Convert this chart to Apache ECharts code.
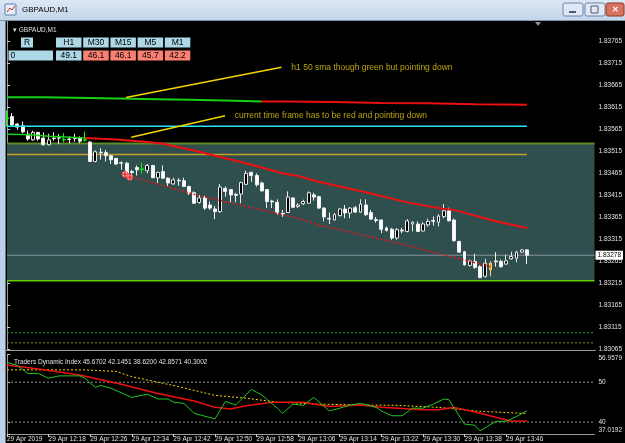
<!DOCTYPE html>
<html>
<head>
<meta charset="utf-8">
<style>
html,body{margin:0;padding:0;background:#000;}
#chart{width:625px;height:443px;}
</style>
<script src="https://cdn.jsdelivr.net/npm/echarts@6/dist/echarts.min.js"></script>
</head>
<body>
<div id="chart"></div>
<script>
var FONT = 'Liberation Sans, Arial, sans-serif';

// x = bar index, bar 0 = 29 Apr 2019 12:10, one bar per minute
var timeTicks = [0, 8, 16, 24, 32, 40, 48, 56, 64, 72, 80, 88, 96];
var timeLabels = ['29 Apr 2019', '29 Apr 12:18', '29 Apr 12:26', '29 Apr 12:34', '29 Apr 12:42',
  '29 Apr 12:50', '29 Apr 12:58', '29 Apr 13:06', '29 Apr 13:14', '29 Apr 13:22',
  '29 Apr 13:30', '29 Apr 13:38', '29 Apr 13:46'];
var priceTicks = [1.83065, 1.83115, 1.83165, 1.83215, 1.83265, 1.83315, 1.83365, 1.83415,
  1.83465, 1.83515, 1.83565, 1.83615, 1.83665, 1.83715, 1.83765];

// open, close, low, high
var candles = [
  [1.83590, 1.83588, 1.83570, 1.83607], [1.83593, 1.83574, 1.83572, 1.83601],
  [1.83576, 1.83569, 1.83563, 1.83578], [1.83572, 1.83558, 1.83555, 1.83582],
  [1.83553, 1.83542, 1.83538, 1.83561], [1.83540, 1.83557, 1.83538, 1.83561],
  [1.83557, 1.83542, 1.83538, 1.83558], [1.83544, 1.83529, 1.83527, 1.83557],
  [1.83529, 1.83540, 1.83527, 1.83554], [1.83544, 1.83543, 1.83538, 1.83557],
  [1.83545, 1.83544, 1.83530, 1.83553], [1.83541, 1.83540, 1.83534, 1.83555],
  [1.83542, 1.83541, 1.83532, 1.83548], [1.83544, 1.83543, 1.83536, 1.83554],
  [1.83544, 1.83537, 1.83532, 1.83548], [1.83540, 1.83539, 1.83536, 1.83559],
  [1.83535, 1.83491, 1.83490, 1.83537], [1.83491, 1.83513, 1.83489, 1.83516],
  [1.83512, 1.83511, 1.83495, 1.83521], [1.83511, 1.83504, 1.83491, 1.83517],
  [1.83504, 1.83495, 1.83485, 1.83506], [1.83498, 1.83485, 1.83483, 1.83498],
  [1.83488, 1.83487, 1.83472, 1.83491], [1.83487, 1.83464, 1.83460, 1.83490],
  [1.83468, 1.83466, 1.83458, 1.83472], [1.83477, 1.83472, 1.83459, 1.83482],
  [1.83474, 1.83473, 1.83464, 1.83488], [1.83470, 1.83482, 1.83464, 1.83485],
  [1.83482, 1.83454, 1.83453, 1.83483], [1.83454, 1.83466, 1.83442, 1.83468],
  [1.83468, 1.83453, 1.83451, 1.83482], [1.83453, 1.83442, 1.83433, 1.83455],
  [1.83440, 1.83449, 1.83438, 1.83454], [1.83448, 1.83447, 1.83436, 1.83453],
  [1.83447, 1.83434, 1.83433, 1.83454], [1.83434, 1.83419, 1.83415, 1.83436],
  [1.83420, 1.83396, 1.83395, 1.83423], [1.83398, 1.83408, 1.83395, 1.83415],
  [1.83409, 1.83385, 1.83381, 1.83413], [1.83392, 1.83385, 1.83381, 1.83400],
  [1.83383, 1.83377, 1.83360, 1.83390], [1.83377, 1.83433, 1.83374, 1.83440],
  [1.83430, 1.83423, 1.83411, 1.83434], [1.83427, 1.83415, 1.83398, 1.83428],
  [1.83416, 1.83414, 1.83398, 1.83420], [1.83417, 1.83443, 1.83396, 1.83445],
  [1.83439, 1.83464, 1.83438, 1.83470], [1.83466, 1.83459, 1.83445, 1.83468],
  [1.83459, 1.83438, 1.83434, 1.83464], [1.83442, 1.83424, 1.83423, 1.83445],
  [1.83427, 1.83400, 1.83385, 1.83428], [1.83401, 1.83399, 1.83385, 1.83404],
  [1.83398, 1.83375, 1.83370, 1.83405], [1.83373, 1.83371, 1.83365, 1.83381],
  [1.83375, 1.83410, 1.83374, 1.83423], [1.83408, 1.83387, 1.83385, 1.83410],
  [1.83389, 1.83392, 1.83385, 1.83396], [1.83395, 1.83400, 1.83392, 1.83404],
  [1.83396, 1.83420, 1.83395, 1.83423], [1.83415, 1.83410, 1.83402, 1.83420],
  [1.83411, 1.83385, 1.83383, 1.83413], [1.83385, 1.83365, 1.83355, 1.83387],
  [1.83362, 1.83360, 1.83349, 1.83375], [1.83358, 1.83370, 1.83357, 1.83374],
  [1.83368, 1.83383, 1.83366, 1.83385], [1.83383, 1.83374, 1.83362, 1.83392],
  [1.83374, 1.83385, 1.83362, 1.83387], [1.83386, 1.83376, 1.83374, 1.83390],
  [1.83376, 1.83394, 1.83374, 1.83405], [1.83392, 1.83370, 1.83367, 1.83405],
  [1.83375, 1.83360, 1.83358, 1.83381], [1.83359, 1.83357, 1.83352, 1.83365],
  [1.83358, 1.83337, 1.83328, 1.83359], [1.83340, 1.83334, 1.83332, 1.83343],
  [1.83337, 1.83317, 1.83313, 1.83340], [1.83317, 1.83336, 1.83313, 1.83340],
  [1.83335, 1.83333, 1.83328, 1.83340], [1.83332, 1.83356, 1.83330, 1.83360],
  [1.83349, 1.83353, 1.83332, 1.83355], [1.83349, 1.83332, 1.83331, 1.83355],
  [1.83333, 1.83349, 1.83332, 1.83353], [1.83347, 1.83355, 1.83343, 1.83361],
  [1.83357, 1.83355, 1.83345, 1.83366], [1.83353, 1.83367, 1.83343, 1.83371],
  [1.83366, 1.83379, 1.83362, 1.83394], [1.83379, 1.83356, 1.83355, 1.83386],
  [1.83358, 1.83311, 1.83309, 1.83361], [1.83309, 1.83285, 1.83283, 1.83311],
  [1.83286, 1.83256, 1.83255, 1.83288], [1.83255, 1.83265, 1.83252, 1.83268],
  [1.83264, 1.83250, 1.83247, 1.83281], [1.83252, 1.83227, 1.83226, 1.83255],
  [1.83230, 1.83260, 1.83227, 1.83270], [1.83245, 1.83260, 1.83230, 1.83264],
  [1.83265, 1.83263, 1.83252, 1.83285], [1.83264, 1.83252, 1.83250, 1.83268],
  [1.83258, 1.83265, 1.83256, 1.83279], [1.83270, 1.83275, 1.83268, 1.83286],
  [1.83271, 1.83285, 1.83262, 1.83288], [1.83285, 1.83290, 1.83283, 1.83292],
  [1.83290, 1.83278, 1.83258, 1.83292]
];
var greenBars = [0, 11, 15, 26];
var orangeBars = [93];

// H1 50 sma, stepped (bar where each step starts)
var h1MaBars = [0, 7, 16, 26, 35, 44, 49, 54, 63, 72, 81, 90, 100];
var h1MaValues = [1.83637, 1.83635, 1.83633, 1.83631, 1.83629, 1.83627, 1.83627, 1.83626,
  1.83624, 1.83623, 1.83621, 1.83620, 1.83620];
var h1GreenUntil = 6; // index in h1MaBars where colour turns red

// current time frame MA
var maBars = [0, 3, 5, 8, 12, 15, 21, 27, 30, 37, 40, 46, 53, 56, 60, 64, 69, 77, 84, 86, 94, 100];
var maValues = [1.83553, 1.83552, 1.83551, 1.83548, 1.83546, 1.83544, 1.83541, 1.83535, 1.83531,
  1.83513, 1.83504, 1.83487, 1.83464, 1.83458, 1.83445, 1.83434, 1.83421, 1.83398, 1.83383,
  1.83381, 1.83355, 1.83340];
var maGreenUntil = 5;

var lowBandBars = [24, 37, 56, 60, 77, 93];
var lowBandValues = [1.83456, 1.83413, 1.83362, 1.83347, 1.83300, 1.83252];

var cyanLevel = 1.83571;
var goldLevel = 1.83507;
var zoneTop = 1.83532;
var zoneBottom = 1.83220;
var bidPrice = 1.83278;
var lowLevels = [1.83102, 1.83079];

var trendLines = [
  [[22.9, 1.83636], [52.8, 1.83705]],
  [[23.9, 1.83546], [41.95, 1.83595]]
];
var notes = [
  {x: 54.6, y: 1.83703, text: 'h1 50 sma though green but pointing down'},
  {x: 43.7, y: 1.83595, text: 'current time frame has to be red and pointing down'}
];
var tradeMarks = [[22.7, 1.83462], [23.6, 1.83455]];

// Traders Dynamic Index
var rsiBars = [0, 2, 4, 6, 8, 10, 14, 15, 17, 18, 20, 24, 27, 29, 31, 32, 34, 35, 36, 40, 42, 44,
  47, 49, 52, 53, 55, 57, 59, 62, 64, 66, 68, 71, 72, 74, 76, 78, 80, 82, 84, 85, 88, 90, 91,
  94, 96, 98, 100];
var rsiValues = [55.0, 54.2, 52.2, 52.2, 51.0, 51.6, 51.6, 51.0, 48.7, 49.2, 48.5, 46.2, 47.0,
  45.8, 45.8, 45.0, 44.7, 43.5, 42.2, 40.8, 45.2, 44.3, 48.2, 46.8, 43.5, 42.2, 44.5, 44.2,
  46.2, 42.8, 43.5, 44.3, 44.7, 43.7, 42.8, 41.6, 41.6, 43.5, 43.5, 44.5, 45.8, 45.6, 39.5,
  39.2, 37.8, 40.2, 40.2, 41.4, 42.86];
var sigBars = [0, 6, 14, 22, 29, 36, 40, 43, 46, 51, 57, 62, 68, 72, 80, 83, 86, 91, 97, 100];
var sigValues = [54.3, 53.3, 51.8, 49.5, 47.2, 45.3, 43.7, 43.3, 44.1, 45.0, 45.0, 43.9, 44.3,
  43.7, 43.1, 43.1, 43.7, 42.2, 40.2, 40.30];
var mblBars = [0, 15, 21, 24, 33, 40, 46, 52, 60, 68, 75, 83, 91, 100];
var mblValues = [53.1, 53.1, 52.7, 51.4, 48.9, 46.7, 46.0, 45.0, 44.5, 44.3, 44.2, 43.7, 42.7, 42.15];
var tdiLast = ['45.6702', '42.1451', '38.6200', '42.8571', '40.3002'];
var tdiTicks = [37.0192, 40, 50, 56.9579];
var tdiLevels = [50, 40];

// dashboard at top left
var tfNames = ['H1', 'M30', 'M15', 'M5', 'M1'];
var tfValues = ['49.1', '46.1', '46.1', '45.7', '42.2'];
var tfColors = ['#add8e6', '#fa8072', '#fa8072', '#fa8072', '#fa8072'];

function pairs(xs, ys) {
  return xs.map(function (x, i) { return [x, ys[i]]; });
}

var candleData = candles.map(function (c, i) {
  var item = {value: [i, c[0], c[1], c[2], c[3]]};
  if (greenBars.indexOf(i) >= 0) {
    item.itemStyle = {color: '#00ff00', color0: '#00ff00', borderColor: '#00ff00', borderColor0: '#00ff00'};
  } else if (orangeBars.indexOf(i) >= 0) {
    item.itemStyle = {color: '#ffa500', color0: '#ffa500', borderColor: '#ffd080', borderColor0: '#ffd080'};
  }
  return item;
});

var h1Pts = pairs(h1MaBars, h1MaValues);
var maPts = pairs(maBars, maValues);

function flatLine(name, level, color, width, type, z) {
  return {
    type: 'line', name: name, xAxisIndex: 0, yAxisIndex: 0, z: z || 3,
    data: [[0, level], [100, level]], symbol: 'none', silent: true,
    lineStyle: {color: color, width: width, type: type || 'solid'}
  };
}
function levelLine(level, color, width, type, z) {
  return {
    type: 'line', xAxisIndex: 0, yAxisIndex: 0, z: z || 2, silent: true,
    data: [[0, level], [113, level]], symbol: 'none',
    lineStyle: {color: color, width: width, type: type}
  };
}

var widgets = [];
// window chrome
widgets.push({type: 'rect', shape: {x: 0, y: 0, width: 625, height: 20},
  style: {fill: new echarts.graphic.LinearGradient(0, 0, 0, 1, [
    {offset: 0, color: '#dce7f5'}, {offset: 1, color: '#c3d5ea'}])}, z: 100});
widgets.push({type: 'rect', shape: {x: 0, y: 20, width: 6, height: 423}, style: {fill: '#bcd0e8'}, z: 100});
widgets.push({type: 'rect', shape: {x: 5, y: 20, width: 1, height: 423}, style: {fill: '#6a7a8a'}, z: 100});
widgets.push({type: 'rect', shape: {x: 0, y: 20, width: 625, height: 1}, style: {fill: '#8090a0'}, z: 100});
widgets.push({type: 'rect', shape: {x: 5, y: 4, width: 11, height: 11, r: 1},
  style: {fill: '#e8eef6', stroke: '#5a7fb0', lineWidth: 1}, z: 101});
widgets.push({type: 'polyline', shape: {points: [[7, 12], [10, 8], [12, 10], [15, 6]]},
  style: {stroke: '#c03030', lineWidth: 1}, z: 102});
widgets.push({type: 'text', x: 22, y: 10, style: {text: 'GBPAUD,M1', fill: '#000', font: '8px ' + FONT,
  verticalAlign: 'middle'}, z: 101});
[[563, '#dfe8f4', '#6d86a8'], [585, '#dfe8f4', '#6d86a8'], [606, '#d9735f', '#8a3a2a']].forEach(function (b, i) {
  widgets.push({type: 'rect', shape: {x: b[0], y: 3, width: i === 2 ? 18 : 20, height: 13, r: 2},
    style: {fill: b[1], stroke: b[2], lineWidth: 1}, z: 101});
});
widgets.push({type: 'rect', shape: {x: 569, y: 11, width: 7, height: 2}, style: {fill: '#4a5a70'}, z: 102});
widgets.push({type: 'rect', shape: {x: 591, y: 6, width: 7, height: 7}, style: {fill: 'none', stroke: '#4a5a70', lineWidth: 1}, z: 102});
widgets.push({type: 'text', x: 615, y: 10, style: {text: '✕', fill: '#fff', font: 'bold 8px ' + FONT,
  align: 'center', verticalAlign: 'middle'}, z: 102});
// pane borders
widgets.push({type: 'rect', shape: {x: 6, y: 350, width: 590, height: 1}, style: {fill: '#9a9a9a'}, z: 50});
widgets.push({type: 'polygon', shape: {points: [[535, 22], [541, 22], [538, 26]]}, style: {fill: '#8a95a5'}, z: 50});
// dashboard
function box(x, y, w, fill, text, align) {
  widgets.push({type: 'rect', shape: {x: x, y: y, width: w, height: 10}, style: {fill: fill}, z: 60});
  widgets.push({type: 'text', x: align === 'left' ? x + 2 : x + w / 2, y: y + 5.5,
    style: {text: text, fill: '#000', font: '8.5px ' + FONT, align: align || 'center', verticalAlign: 'middle'}, z: 61});
}
box(21, 37.5, 12, '#add8e6', 'R');
box(8.5, 50.5, 44.5, '#add8e6', '0', 'left');
tfNames.forEach(function (n, i) {
  var x = 56 + i * 27.2;
  box(x, 37.5, 25.5, '#add8e6', n);
  box(x, 50.5, 25.5, tfColors[i], tfValues[i]);
});

var chart = echarts.init(document.getElementById('chart'));
chart.setOption({
  backgroundColor: '#000',
  animation: false,
  title: [
    {text: '▾ GBPAUD,M1', left: 8, top: 22, textStyle: {color: '#e0e0e0', fontSize: 6.5, fontWeight: 'normal', fontFamily: FONT}},
    {text: 'Traders Dynamic Index ' + tdiLast.join(' '), left: 9, top: 354,
      textStyle: {color: '#e0e0e0', fontSize: 6.5, fontWeight: 'normal', fontFamily: FONT}}
  ],
  grid: [
    {left: 7, right: 29, top: 21, bottom: 94},
    {left: 7, right: 29, top: 354.5, bottom: 9}
  ],
  xAxis: [
    {type: 'value', gridIndex: 0, min: 0, max: 113, axisLine: {show: false}, axisTick: {show: false},
      axisLabel: {show: false}, splitLine: {show: false}},
    {type: 'value', gridIndex: 1, min: 0, max: 113,
      axisLine: {show: true, onZero: false, lineStyle: {color: '#9a9a9a'}},
      axisTick: {show: true, customValues: timeTicks, length: 3, lineStyle: {color: '#cfcfcf'}},
      axisLabel: {customValues: timeTicks, align: 'left', margin: 2, color: '#e0e0e0', fontSize: 6.5, fontFamily: FONT,
        formatter: function (v) { var k = timeTicks.indexOf(v); return k >= 0 ? timeLabels[k] : ''; }},
      splitLine: {show: false}}
  ],
  yAxis: [
    {type: 'value', gridIndex: 0, position: 'right', min: 1.83065, max: 1.8381,
      axisLine: {show: true, lineStyle: {color: '#9a9a9a'}},
      axisTick: {show: true, customValues: priceTicks, length: 3, lineStyle: {color: '#cfcfcf'}},
      axisLabel: {customValues: priceTicks, margin: 4, color: '#e0e0e0', fontSize: 6.5, fontFamily: FONT,
        formatter: function (v) { return v.toFixed(5); }},
      splitLine: {show: false}},
    {type: 'value', gridIndex: 1, position: 'right', min: 37.0192, max: 56.9579,
      axisLine: {show: true, lineStyle: {color: '#9a9a9a'}},
      axisTick: {show: true, customValues: tdiTicks, length: 3, lineStyle: {color: '#cfcfcf'}},
      axisLabel: {customValues: tdiTicks, margin: 4, color: '#e0e0e0', fontSize: 6.5, fontFamily: FONT,
        formatter: function (v) {
          if (v === tdiTicks[0]) return '{b|' + v + '}';
          if (v === tdiTicks[3]) return '{t|' + v + '}';
          return String(v);
        },
        rich: {
          t: {color: '#e0e0e0', fontSize: 6.5, fontFamily: FONT, padding: [8, 0, 0, 0]},
          b: {color: '#e0e0e0', fontSize: 6.5, fontFamily: FONT, padding: [0, 0, 8, 0]}
        }},
      splitLine: {show: false}}
  ],
  graphic: widgets,
  series: [
    {
      type: 'line', name: 'zone', xAxisIndex: 0, yAxisIndex: 0, z: 1, silent: true,
      data: [[0, zoneTop], [113, zoneTop]], symbol: 'none', lineStyle: {color: '#5f8a28', width: 2},
      markArea: {silent: true, itemStyle: {color: '#2f4f4f'}, data: [[{yAxis: zoneTop}, {yAxis: zoneBottom}]]}
    },
    levelLine(zoneBottom, '#66cc00', 1.5, 'solid', 2),
    levelLine(lowLevels[0], '#1f9f1f', 1, [2, 2], 2),
    levelLine(lowLevels[1], '#8c8c30', 1, [2, 2], 2),
    {
      type: 'line', xAxisIndex: 0, yAxisIndex: 0, z: 2, silent: true,
      data: [[0, bidPrice], [113, bidPrice]], symbol: 'none',
      lineStyle: {color: '#8494a4', width: 1},
      endLabel: {show: true, distance: 1, formatter: bidPrice.toFixed(5),
        backgroundColor: '#fff', color: '#000', fontSize: 6.5, fontFamily: FONT, padding: [1, 2]}
    },
    flatLine('gold', goldLevel, '#c8a028', 1.5, 'solid', 2),
    {
      type: 'candlestick', xAxisIndex: 0, yAxisIndex: 0, z: 3, barWidth: 3.4,
      data: candleData,
      itemStyle: {color: '#000', color0: '#fff', borderColor: '#e8e8e8', borderColor0: '#f0f0f0', borderWidth: 1}
    },
    flatLine('cyan', cyanLevel, '#22e6f6', 1.5, 'solid', 4),
    {type: 'line', xAxisIndex: 0, yAxisIndex: 0, z: 4, symbol: 'none', step: 'end',
      data: h1Pts.slice(0, h1GreenUntil + 1), lineStyle: {color: '#18d018', width: 2}},
    {type: 'line', xAxisIndex: 0, yAxisIndex: 0, z: 4, symbol: 'none', step: 'end',
      data: h1Pts.slice(h1GreenUntil), lineStyle: {color: '#ee1010', width: 2}},
    {type: 'line', xAxisIndex: 0, yAxisIndex: 0, z: 4, symbol: 'none',
      data: maPts.slice(0, maGreenUntil + 1), lineStyle: {color: '#18d018', width: 1.5}},
    {type: 'line', xAxisIndex: 0, yAxisIndex: 0, z: 4, symbol: 'none',
      data: maPts.slice(maGreenUntil), lineStyle: {color: '#ee1010', width: 2}},
    {type: 'line', xAxisIndex: 0, yAxisIndex: 0, z: 4, symbol: 'none',
      data: pairs(lowBandBars, lowBandValues), lineStyle: {color: '#e01818', width: 1.5, type: [2, 2]}},
    {type: 'line', xAxisIndex: 0, yAxisIndex: 0, z: 5, symbol: 'none',
      data: trendLines[0], lineStyle: {color: '#f2d400', width: 1.5}},
    {type: 'line', xAxisIndex: 0, yAxisIndex: 0, z: 5, symbol: 'none',
      data: trendLines[1], lineStyle: {color: '#f2d400', width: 1.5}},
    {type: 'scatter', xAxisIndex: 0, yAxisIndex: 0, z: 6, symbolSize: 1, itemStyle: {color: 'rgba(0,0,0,0)'},
      data: notes.map(function (n) { return {value: [n.x, n.y], name: n.text}; }),
      label: {show: true, position: 'right', distance: 0, formatter: '{b}', color: '#e6cc10', fontSize: 8.5, fontFamily: FONT}},
    {type: 'scatter', xAxisIndex: 0, yAxisIndex: 0, z: 6, symbol: 'circle', symbolSize: 6,
      data: tradeMarks, itemStyle: {color: '#ffffff', borderColor: '#ff3030', borderWidth: 1}},
    {type: 'scatter', xAxisIndex: 0, yAxisIndex: 0, z: 7, symbol: 'path://M2,0H4V2H6V4H4V6H2V4H0V2H2Z', symbolSize: 5,
      data: tradeMarks, itemStyle: {color: '#ff0000'}},
    // TDI pane
    {type: 'line', xAxisIndex: 1, yAxisIndex: 1, z: 2, symbol: 'none', silent: true,
      data: [[0, tdiLevels[0]], [113, tdiLevels[0]]], lineStyle: {color: '#8a8a8a', width: 1, type: [2, 2]}},
    {type: 'line', xAxisIndex: 1, yAxisIndex: 1, z: 2, symbol: 'none', silent: true,
      data: [[0, tdiLevels[1]], [113, tdiLevels[1]]], lineStyle: {color: '#8a8a8a', width: 1, type: [2, 2]}},
    {type: 'line', xAxisIndex: 1, yAxisIndex: 1, z: 3, symbol: 'none',
      data: pairs(mblBars, mblValues), lineStyle: {color: '#ffd700', width: 1, type: [2, 2]}},
    {type: 'line', xAxisIndex: 1, yAxisIndex: 1, z: 4, symbol: 'none',
      data: pairs(sigBars, sigValues), lineStyle: {color: '#ee1010', width: 1.5}},
    {type: 'line', xAxisIndex: 1, yAxisIndex: 1, z: 5, symbol: 'none',
      data: pairs(rsiBars, rsiValues), lineStyle: {color: '#22c822', width: 1}}
  ]
});
</script>
</body>
</html>
